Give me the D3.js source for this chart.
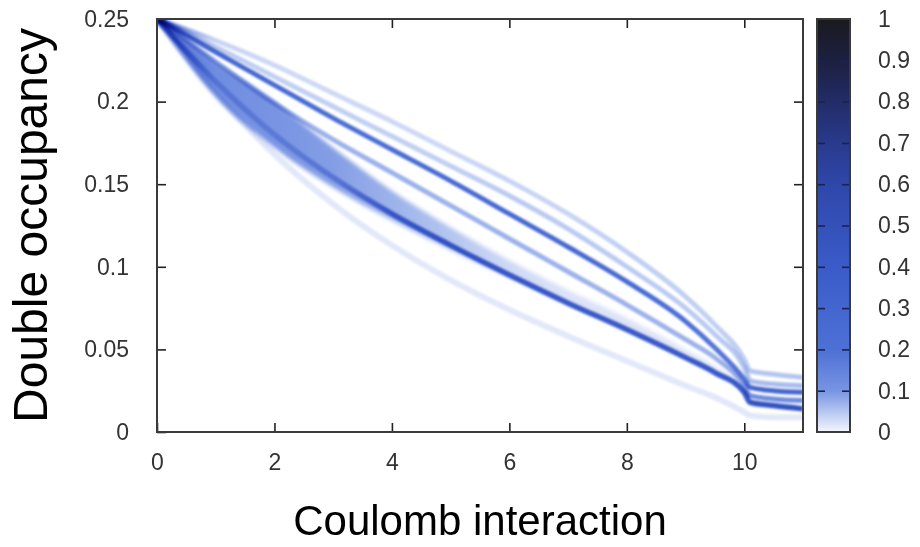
<!DOCTYPE html>
<html>
<head>
<meta charset="utf-8">
<script src="https://cdn.jsdelivr.net/npm/d3@7"></script>
<style>
  body { margin: 0; background: #fff; }
  svg { display: block; font-family: "Liberation Sans", Arial, sans-serif; }
</style>
</head>
<body>
<div id="chart"></div>
<script>
// Coulomb interaction grid shared by every branch
const U = [0, 1, 2, 3, 4, 5, 6, 7, 8, 9, 9.5, 10, 10.1, 10.5, 11];

// branches of double occupancy (values) and their weight (colour bar value)
const topFaint   = [0.25, 0.237, 0.222, 0.205, 0.188, 0.170, 0.152, 0.132, 0.109, 0.082, 0.065, 0.044, 0.037, 0.035, 0.033];
const topFaintW  = [0.15, 0.035, 0.03, 0.03, 0.03, 0.03, 0.035, 0.035, 0.04, 0.04, 0.04, 0.04, 0.05, 0.05, 0.05];
const second     = [0.25, 0.233, 0.215, 0.197, 0.179, 0.161, 0.143, 0.123, 0.100, 0.075, 0.059, 0.039, 0.031, 0.029, 0.028];
const secondW    = [0.15, 0.045, 0.04, 0.04, 0.04, 0.04, 0.045, 0.045, 0.045, 0.045, 0.045, 0.05, 0.06, 0.06, 0.06];
const upper      = [0.25, 0.230, 0.210, 0.190, 0.171, 0.152, 0.132, 0.112, 0.091, 0.067, 0.051, 0.032, 0.027, 0.025, 0.024];
const upperW     = [0.35, 0.28, 0.25, 0.22, 0.22, 0.24, 0.26, 0.26, 0.24, 0.20, 0.18, 0.18, 0.30, 0.30, 0.30];
const middle     = [0.25, 0.224, 0.199, 0.177, 0.157, 0.137, 0.117, 0.097, 0.077, 0.056, 0.045, 0.028, 0.022, 0.020, 0.019];
const middleW    = [0.20, 0.07, 0.07, 0.07, 0.07, 0.07, 0.07, 0.07, 0.07, 0.07, 0.07, 0.08, 0.12, 0.12, 0.12];
const bandTop    = [0.25, 0.224, 0.200, 0.172, 0.146, 0.124, 0.104, 0.086, 0.069, 0.050, 0.040, 0.026, 0.019, 0.017, 0.016];
const bandBottom = [0.25, 0.203, 0.172, 0.148, 0.128, 0.110, 0.093, 0.077, 0.061, 0.044, 0.035, 0.023, 0.017, 0.015, 0.014];
const bandW      = [0.20, 0.12, 0.10, 0.09, 0.07, 0.05, 0.03, 0.02, 0.02, 0.02, 0.02, 0.02, 0.02, 0.02, 0.02];
const lower      = [0.25, 0.212, 0.180, 0.154, 0.132, 0.113, 0.095, 0.078, 0.062, 0.045, 0.036, 0.024, 0.018, 0.016, 0.014];
const lowerW     = [0.30, 0.04, 0.04, 0.06, 0.18, 0.28, 0.32, 0.34, 0.34, 0.34, 0.34, 0.36, 0.42, 0.42, 0.42];
const bottom     = [0.25, 0.205, 0.168, 0.138, 0.113, 0.092, 0.074, 0.058, 0.043, 0.028, 0.021, 0.012, 0.010, 0.009, 0.009];
const bottomW    = [0.05, 0.015, 0.015, 0.015, 0.015, 0.015, 0.015, 0.015, 0.015, 0.015, 0.015, 0.015, 0.015, 0.015, 0.015];

const xTicks = [0, 2, 4, 6, 8, 10];
const yTicks = [0, 0.05, 0.1, 0.15, 0.2, 0.25];
const cbTicks = [0, 0.1, 0.2, 0.3, 0.4, 0.5, 0.6, 0.7, 0.8, 0.9, 1];

const width = 920, height = 547;
const margin = { top: 19, right: 117, bottom: 115, left: 157 };
const plotW = width - margin.left - margin.right;
const plotH = height - margin.top - margin.bottom;

// colour bar palette (white -> blue -> black)
const colour = d3.scaleLinear()
  .domain([0, 0.05, 0.1, 0.2, 0.4, 0.6, 0.7, 0.8, 0.9, 1])
  .range(['#f6f6fd', '#b4c6f0', '#7894e2', '#4d70d6', '#3a5bc8', '#2f47aa', '#293a8c', '#222c68', '#1c2040', '#1a1a1e'])
  .clamp(true);

const svg = d3.select('#chart').append('svg').attr('width', width).attr('height', height);
const defs = svg.append('defs');
defs.append('filter').attr('id', 'soft').attr('x', '-5%').attr('y', '-5%').attr('width', '110%').attr('height', '110%')
  .append('feGaussianBlur').attr('stdDeviation', 1.1);
defs.append('filter').attr('id', 'softer').attr('x', '-5%').attr('y', '-5%').attr('width', '110%').attr('height', '110%')
  .append('feGaussianBlur').attr('stdDeviation', 2);
defs.append('clipPath').attr('id', 'clip').append('rect')
  .attr('x', margin.left).attr('y', margin.top).attr('width', plotW).attr('height', plotH);

const x = d3.scaleLinear().domain([0, 11]).range([margin.left, margin.left + plotW]);
const y = d3.scaleLinear().domain([0, 0.25]).range([margin.top + plotH, margin.top]);

// gradient along x so each branch can change intensity with U
const gradient = (id, weights) => {
  const g = defs.append('linearGradient').attr('id', id)
    .attr('gradientUnits', 'userSpaceOnUse')
    .attr('x1', x(0)).attr('x2', x(11)).attr('y1', 0).attr('y2', 0);
  g.selectAll('stop').data(weights).enter().append('stop')
    .attr('offset', (d, i) => U[i] / 11)
    .attr('stop-color', (d) => colour(d));
  return 'url(#' + id + ')';
};

const plot = svg.append('g').attr('clip-path', 'url(#clip)');

// wide light band under the lower branch
const area = d3.area()
  .x((d, i) => x(U[i]))
  .y0((d) => y(d[1]))
  .y1((d) => y(d[0]))
  .curve(d3.curveMonotoneX);
plot.append('path')
  .attr('d', area(bandTop.map((d, i) => [d, bandBottom[i]])))
  .attr('fill', gradient('g-band', bandW))
  .attr('filter', 'url(#softer)')
  .style('mix-blend-mode', 'multiply');

const line = d3.line()
  .x((d, i) => x(U[i]))
  .y((d) => y(d))
  .curve(d3.curveMonotoneX);

const branches = [
  { id: 'bottom', values: bottom, weights: bottomW, w: 6 },
  { id: 'top', values: topFaint, weights: topFaintW, w: 5 },
  { id: 'second', values: second, weights: secondW, w: 5 },
  { id: 'middle', values: middle, weights: middleW, w: 5 },
  { id: 'upper', values: upper, weights: upperW, w: 5 },
  { id: 'lower', values: lower, weights: lowerW, w: 5.5 },
];
plot.selectAll('path.branch')
  .data(branches)
  .enter()
  .append('path')
  .attr('class', 'branch')
  .attr('d', (d) => line(d.values))
  .attr('fill', 'none')
  .attr('stroke', (d) => gradient('g-' + d.id, d.weights))
  .attr('stroke-width', (d) => d.w)
  .attr('filter', 'url(#soft)')
  .style('mix-blend-mode', 'multiply');

// axes with inward ticks on all four sides
const tickStyle = (g) => {
  g.select('.domain').remove();
  g.selectAll('.tick line').attr('stroke', '#222').attr('stroke-width', 1.6);
  g.selectAll('.tick text').attr('fill', '#333').style('font-size', '23px');
};
svg.append('g').attr('transform', `translate(0,${y(0)})`)
  .call(d3.axisBottom(x).tickValues(xTicks).tickSize(-9).tickPadding(22).tickFormat(d3.format('d')))
  .call(tickStyle);
svg.append('g').attr('transform', `translate(0,${y(0.25)})`)
  .call(d3.axisTop(x).tickValues(xTicks.slice(1)).tickSize(-9).tickFormat(''))
  .call(tickStyle);
svg.append('g').attr('transform', `translate(${x(0)},0)`)
  .call(d3.axisLeft(y).tickValues(yTicks).tickSize(-9).tickPadding(28).tickFormat((d) => (d === 0 ? '0' : String(+d.toFixed(2)))))
  .call(tickStyle);
svg.append('g').attr('transform', `translate(${x(11)},0)`)
  .call(d3.axisRight(y).tickValues(yTicks.slice(1, 5)).tickSize(-9).tickFormat(''))
  .call(tickStyle);

svg.append('rect')
  .attr('x', x(0)).attr('y', y(0.25)).attr('width', x(11) - x(0)).attr('height', y(0) - y(0.25))
  .attr('fill', 'none').attr('stroke', '#3a3a3a').attr('stroke-width', 2);

// colour bar
const cbX = 817, cbW = 33;
const cb = d3.scaleLinear().domain([0, 1]).range([y(0), y(0.25)]);
const cbGrad = defs.append('linearGradient').attr('id', 'cbar')
  .attr('x1', 0).attr('x2', 0).attr('y1', 1).attr('y2', 0);
cbGrad.selectAll('stop').data(colour.domain()).enter().append('stop')
  .attr('offset', (d) => d)
  .attr('stop-color', (d) => colour(d));
svg.append('rect')
  .attr('x', cbX).attr('y', cb(1)).attr('width', cbW).attr('height', cb(0) - cb(1))
  .attr('fill', 'url(#cbar)');
svg.append('g').attr('transform', `translate(${cbX},0)`)
  .call(d3.axisLeft(cb).tickValues(cbTicks.slice(1, -1)).tickSize(-8).tickFormat(''))
  .call(tickStyle)
  .selectAll('.tick line').attr('stroke', '#1c2250');
svg.append('g').attr('transform', `translate(${cbX + cbW},0)`)
  .call(d3.axisRight(cb).tickValues(cbTicks).tickSize(-8).tickPadding(28).tickFormat((d) => String(d)))
  .call(tickStyle)
  .selectAll('.tick line').attr('stroke', (d) => (d === 0 || d === 1 ? 'none' : '#1c2250'));
svg.append('rect')
  .attr('x', cbX).attr('y', cb(1)).attr('width', cbW).attr('height', cb(0) - cb(1))
  .attr('fill', 'none').attr('stroke', '#3a3a3a').attr('stroke-width', 2);

// axis titles
svg.append('text')
  .attr('x', (x(0) + x(11)) / 2).attr('y', 535)
  .attr('text-anchor', 'middle')
  .style('font-size', '42px')
  .text('Coulomb interaction');
svg.append('text')
  .attr('transform', `translate(47,${(y(0) + y(0.25)) / 2}) rotate(-90)`)
  .attr('text-anchor', 'middle')
  .style('font-size', '48px')
  .text('Double occupancy');
</script>
</body>
</html>
